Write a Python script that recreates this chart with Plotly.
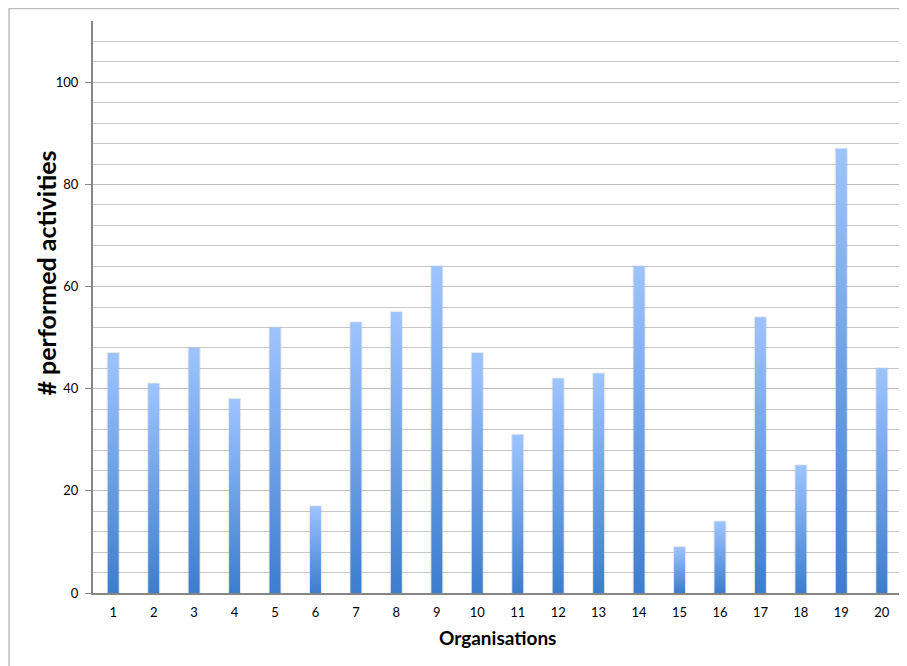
import plotly.graph_objects as go

organisations = [str(i) for i in range(1, 21)]
activities = [47, 41, 48, 38, 52, 17, 53, 55, 64, 47, 31, 42, 43, 64, 9, 14, 54, 25, 87, 44]
y_ticks = [0, 20, 40, 60, 80, 100]

# page offset of the plotly div (browser body margin)
OFF = 8
W, H = 907 - OFF, 666 - OFF
PL, PR, PT, PB = 92.5, 902, 21, 593  # plot area in page pixels
ML, MT = PL - OFF, PT - OFF
MR, MB = 907 - PR, 666 - PB
BAR_HALF = 0.135
DARK = "#3D7DCE"
LIGHT = "#9EC4FF"


def px(x):
    return (x - PL) / (PR - PL)


def py(y):
    return (PB - y) / (PB - PT)


fig = go.Figure()
for i, v in enumerate(activities):
    fig.add_trace(go.Scatter(
        x=[i - BAR_HALF - 0.03, i - BAR_HALF - 0.03, i + BAR_HALF + 0.03, i + BAR_HALF + 0.03, i - BAR_HALF - 0.03],
        y=[0, v + 0.2, v + 0.2, 0, 0],
        fill="toself", mode="lines", line=dict(width=0),
        fillcolor="rgba(0,0,0,0.07)", hoverinfo="skip", showlegend=False))
    fig.add_trace(go.Scatter(
        x=[i - BAR_HALF, i - BAR_HALF, i + BAR_HALF, i + BAR_HALF, i - BAR_HALF],
        y=[0, v, v, 0, 0],
        fill="toself", mode="lines", line=dict(width=0),
        fillgradient=dict(type="vertical", colorscale=[[0, DARK], [1, LIGHT]]),
        hoverinfo="skip", showlegend=False))

fig.add_trace(go.Bar(x=list(range(20)), y=activities, width=0.27,
                     marker=dict(color="rgba(0,0,0,0)"), showlegend=False,
                     hovertext=organisations))

fig.add_shape(type="rect", xref="paper", yref="paper",
              x0=px(8.5), x1=px(905), y0=py(672), y1=py(8.5),
              line=dict(color="#BDBDBD", width=1.5), fillcolor="rgba(0,0,0,0)", layer="below")

fig.add_annotation(text="<b># performed activities</b>", xref="paper", yref="paper",
                   x=px(45), y=py(273), textangle=-90, showarrow=False,
                   xanchor="center", yanchor="middle", font=dict(size=25))
fig.add_annotation(text="<b>Organisations</b>", xref="paper", yref="paper",
                   x=px(497), y=py(637), showarrow=False,
                   xanchor="center", yanchor="middle", font=dict(size=19))

fig.update_layout(
    width=W, height=H,
    margin=dict(l=ML, r=MR, t=MT, b=MB, pad=0),
    paper_bgcolor="white", plot_bgcolor="white",
    font=dict(family="Lato, Open Sans, sans-serif", size=13, color="#000000"),
    xaxis=dict(
        range=[-0.5, 19.5], tickmode="array", tickvals=list(range(20)), ticktext=organisations,
        showgrid=False, showline=True, linecolor="#868686", linewidth=2,
        ticks="", zeroline=False, ticklabelstandoff=6,
    ),
    yaxis=dict(
        range=[0, 112], tickmode="array", tickvals=y_ticks,
        showgrid=True, gridcolor="#BFBFBF", gridwidth=1,
        minor=dict(dtick=4, tick0=0, showgrid=True, gridcolor="#C8C8C8", gridwidth=1),
        showline=True, linecolor="#868686", linewidth=2,
        ticks="outside", ticklen=6, tickcolor="#868686", tickwidth=1,
        zeroline=False, ticklabelstandoff=4,
    ),
)

fig.write_html("out.html")
